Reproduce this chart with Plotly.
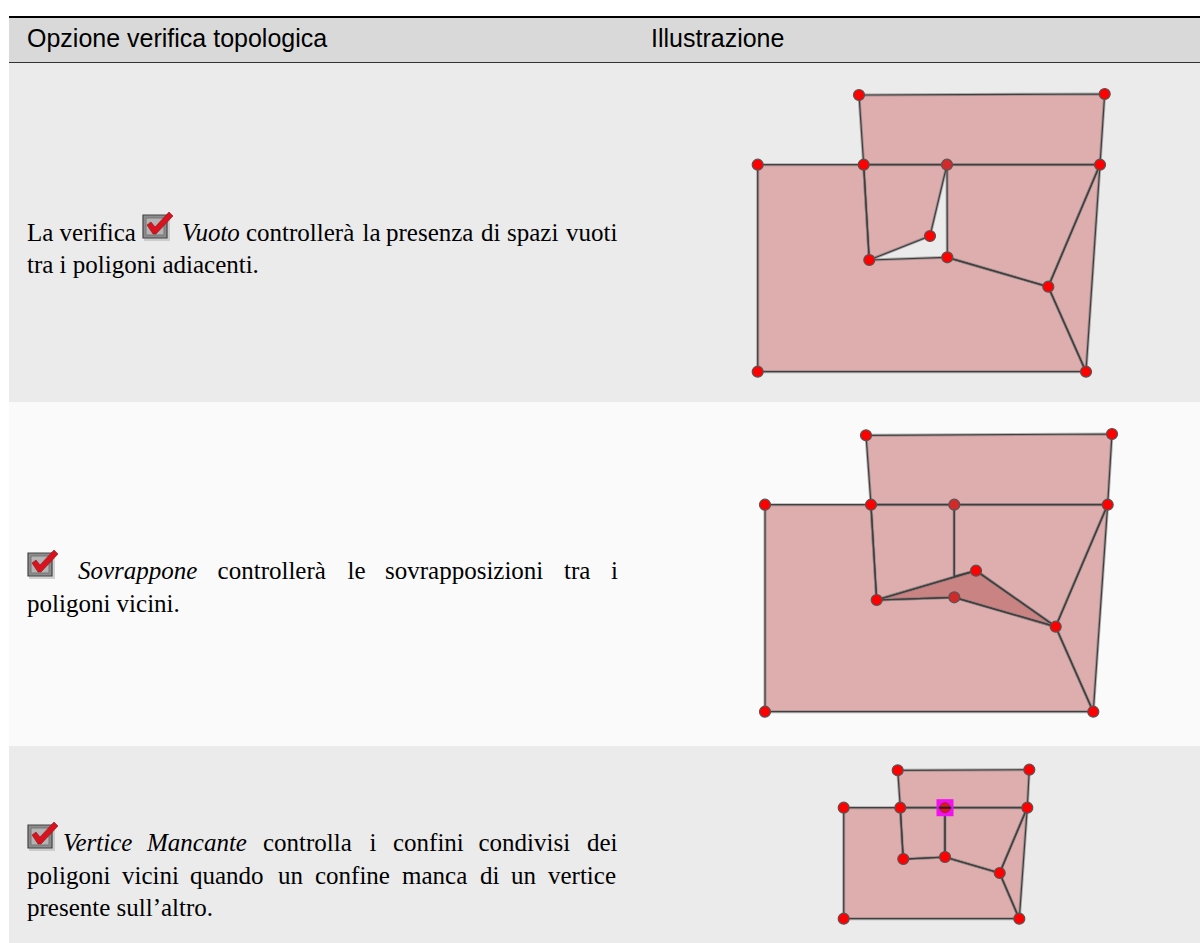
import plotly.graph_objects as go

# ---- table text ----
header_labels = ["Opzione verifica topologica", "Illustrazione"]
header_x = [27, 651]
header_y = [40.5, 40.5]

words_r1 = ["La verifica", "<i>Vuoto</i>", "controllerà", "la", "presenza", "di", "spazi", "vuoti", "tra i poligoni adiacenti."]
wx_r1 = [27, 182, 246, 362.5, 386, 481, 507, 566, 27]
wy_r1 = [235, 235, 235, 235, 235, 235, 235, 235, 266.5]

words_r2 = ["<i>Sovrappone</i>", "controllerà", "le", "sovrapposizioni", "tra", "i", "poligoni vicini."]
wx_r2 = [78, 217.6, 347.6, 385, 564, 611, 27]
wy_r2 = [573, 573, 573, 573, 573, 573, 605.5]

words_r3 = ["<i>Vertice</i>", "<i>Mancante</i>", "controlla", "i", "confini", "condivisi", "dei",
            "poligoni", "vicini", "quando", "un", "confine", "manca", "di", "un", "vertice",
            "presente sull’altro."]
wx_r3 = [63, 147, 263, 369.5, 393, 478.5, 587, 27, 122, 190, 278, 315, 402, 480, 511, 548, 27]
wy_r3 = [845] * 7 + [877.5] * 9 + [909.5]

# ---- checkbox icon positions (left, top) ----
icon_x = [143, 28, 28]
icon_y = [212, 550, 822]

# ---- diagram 1 (gap) ----
d1_top = ([859, 1104.7, 1100, 863.7], [95, 94, 164.7, 164.7])
d1_a = ([757.7, 863.7, 869.3, 947.3, 1048.3, 1086, 757.7], [164.7, 164.7, 260, 257.3, 286.7, 371.7, 371.7])
d1_b = ([863.7, 947, 930, 869.3], [164.7, 164.7, 236, 260])
d1_c = ([947, 1100, 1048.3, 947.3], [164.7, 164.7, 286.7, 257.3])
d1_d = ([1100, 1086, 1048.3], [164.7, 371.7, 286.7])
d1_vx = [859, 1104.7, 1100, 863.7, 757.7, 757.7, 1086, 1048.3, 947.3, 869.3, 930]
d1_vy = [95, 94, 164.7, 164.7, 164.7, 371.7, 371.7, 286.7, 257.3, 260, 236]
d1_dark_x = [947]
d1_dark_y = [164.7]

# ---- diagram 2 (overlap) ----
d2_top = ([866, 1112, 1107.7, 871], [435.3, 434, 504.7, 504.7])
d2_a = ([765, 871, 876.7, 954.3, 1055.7, 1093.3, 765], [504.7, 504.7, 600, 597.3, 626.7, 711.7, 711.7])
d2_b = ([871, 954.3, 954.3, 976, 876.7], [504.7, 504.7, 576.5, 570.7, 600])
d2_c = ([954.3, 1107.7, 1055.7, 976, 954.3], [504.7, 504.7, 626.7, 570.7, 576.5])
d2_d = ([1107.7, 1093.3, 1055.7], [504.7, 711.7, 626.7])
d2_ov = ([876.7, 954.3, 976, 1055.7, 954.3], [600, 576.5, 570.7, 626.7, 597.3])
d2_vx = [866, 1112, 1107.7, 871, 765, 765, 1093.3, 1055.7, 876.7, 976]
d2_vy = [435.3, 434, 504.7, 504.7, 504.7, 711.7, 711.7, 626.7, 600, 570.7]
d2_dark_x = [954.3, 954.3]
d2_dark_y = [504.7, 597.3]

# ---- diagram 3 (missing vertex) ----
d3_top = ([897.7, 1029.3, 1027.3, 900.3], [770.3, 769.7, 807.7, 807.7])
d3_a = ([843.7, 900.3, 903.3, 945, 999.7, 1019.3, 843.7], [807.7, 807.7, 859, 857, 873, 918.7, 918.7])
d3_b = ([900.3, 945, 945, 903.3], [807.7, 807.7, 857, 859])
d3_c = ([945, 1027.3, 999.7, 945], [807.7, 807.7, 873, 857])
d3_d = ([1027.3, 1019.3, 999.7], [807.7, 918.7, 873])
d3_vx = [897.7, 1029.3, 1027.3, 900.3, 843.7, 843.7, 1019.3, 999.7, 945, 903.3]
d3_vy = [770.3, 769.7, 807.7, 807.7, 807.7, 918.7, 918.7, 873, 857, 859]
d3_err_x = [945]
d3_err_y = [807.7]

POLY = "#deadad"
OV = "#c98383"
EDGE = "#3f3f3f"
fig = go.Figure()


def poly(p, fill=POLY):
    x = list(p[0]) + [p[0][0]]
    y = list(p[1]) + [p[1][0]]
    fig.add_trace(go.Scatter(x=x, y=y, mode="lines", fill="toself", fillcolor=fill,
                             line=dict(color="rgba(110,110,110,0.5)", width=3)))


def outline(p):
    x = list(p[0]) + [p[0][0]]
    y = list(p[1]) + [p[1][0]]
    fig.add_trace(go.Scatter(x=x, y=y, mode="lines", line=dict(color=EDGE, width=1.2)))


def verts(x, y, color="#ff0000"):
    fig.add_trace(go.Scatter(x=x, y=y, mode="markers",
                             marker=dict(size=11, color=color, line=dict(color="#555555", width=1.2))))


for group, extra, vv, dark in [
    ([d1_top, d1_a, d1_b, d1_c, d1_d], None, (d1_vx, d1_vy), (d1_dark_x, d1_dark_y)),
    ([d2_top, d2_a, d2_b, d2_c, d2_d], d2_ov, (d2_vx, d2_vy), (d2_dark_x, d2_dark_y)),
    ([d3_top, d3_a, d3_b, d3_c, d3_d], None, (d3_vx, d3_vy), ([], [])),
]:
    for p in group:
        poly(p)
    if extra:
        poly(extra, OV)
    for p in group:
        outline(p)
    if extra:
        outline(extra)
    if group[0] is d3_top:
        fig.add_trace(go.Scatter(x=d3_err_x, y=d3_err_y, mode="markers",
                                 marker=dict(size=17, symbol="square", color="#f010f0")))
    verts(*vv)
    if dark[0]:
        verts(dark[0], dark[1], "#d22a2a")
    if group[0] is d3_top:
        fig.add_trace(go.Scatter(x=d3_err_x, y=d3_err_y, mode="markers",
                                 marker=dict(size=10, color="#e01818", line=dict(color="#a02040", width=1))))
        fig.add_trace(go.Scatter(x=d3_err_x, y=d3_err_y, mode="markers",
                                 marker=dict(size=9, symbol="line-ew", line=dict(color="#222222", width=2))))

# text
SERIF = "Liberation Serif"
SANS = "Liberation Sans"
fig.add_trace(go.Scatter(x=header_x, y=header_y, mode="text", text=header_labels, textposition="middle right",
                         textfont=dict(family=SANS, size=25, color="#000000")))
for w, x, y in [(words_r1, wx_r1, wy_r1), (words_r2, wx_r2, wy_r2), (words_r3, wx_r3, wy_r3)]:
    fig.add_trace(go.Scatter(x=x, y=y, mode="text", text=w, textposition="middle right",
                             textfont=dict(family=SERIF, size=25, color="#000000")))

# checkbox icons
for ix, iy in zip(icon_x, icon_y):
    fig.add_shape(type="rect", x0=ix + 1, x1=ix + 27, y0=iy + 5, y1=iy + 29, xref="x", yref="y",
                  fillcolor="#b8b8b8", line=dict(width=0), opacity=0.6)
    fig.add_shape(type="rect", x0=ix, x1=ix + 24, y0=iy + 3, y1=iy + 26, xref="x", yref="y",
                  fillcolor="#8c8c8c", line=dict(color="#444444", width=1.2))
    fig.add_shape(type="rect", x0=ix + 3, x1=ix + 21, y0=iy + 6, y1=iy + 23, xref="x", yref="y",
                  fillcolor="#b4b4b4", line=dict(color="#777777", width=1))
    fig.add_shape(type="path",
                  path=f"M {ix+4} {iy+13} L {ix+8} {iy+10} L {ix+12} {iy+15} L {ix+26} {iy} L {ix+30} {iy+4} "
                       f"L {ix+13} {iy+22} L {ix+10} {iy+22} Z",
                  xref="x", yref="y", fillcolor="#d8131f", line=dict(color="#8a1a1a", width=0.6))

# table background
bands = [(9, 1200, 18, 62, "#d9d9d9"), (9, 1200, 63, 402, "#ebebeb"), (9, 1200, 402, 746, "#fafafa"),
         (9, 1200, 746, 943, "#ebebeb")]
for x0, x1, y0, y1, c in bands:
    fig.add_shape(type="rect", x0=x0, x1=x1, y0=y0, y1=y1, xref="x", yref="y", fillcolor=c,
                  line=dict(width=0), layer="below")
fig.add_shape(type="line", x0=9, x1=1200, y0=17, y1=17, xref="x", yref="y", line=dict(color="#000000", width=2), layer="below")
fig.add_shape(type="line", x0=9, x1=1200, y0=62.5, y1=62.5, xref="x", yref="y", line=dict(color="#333333", width=1), layer="below")

fig.update_layout(width=1200, height=943, margin=dict(l=0, r=0, t=0, b=0), showlegend=False,
                  paper_bgcolor="#ffffff", plot_bgcolor="#ffffff",
                  xaxis=dict(range=[0, 1200], visible=False, fixedrange=True),
                  yaxis=dict(range=[943, 0], visible=False, fixedrange=True))
fig.write_html("out.html", config={"displayModeBar": False},
               post_script="document.body.style.margin='0';document.body.style.overflow='hidden';")
